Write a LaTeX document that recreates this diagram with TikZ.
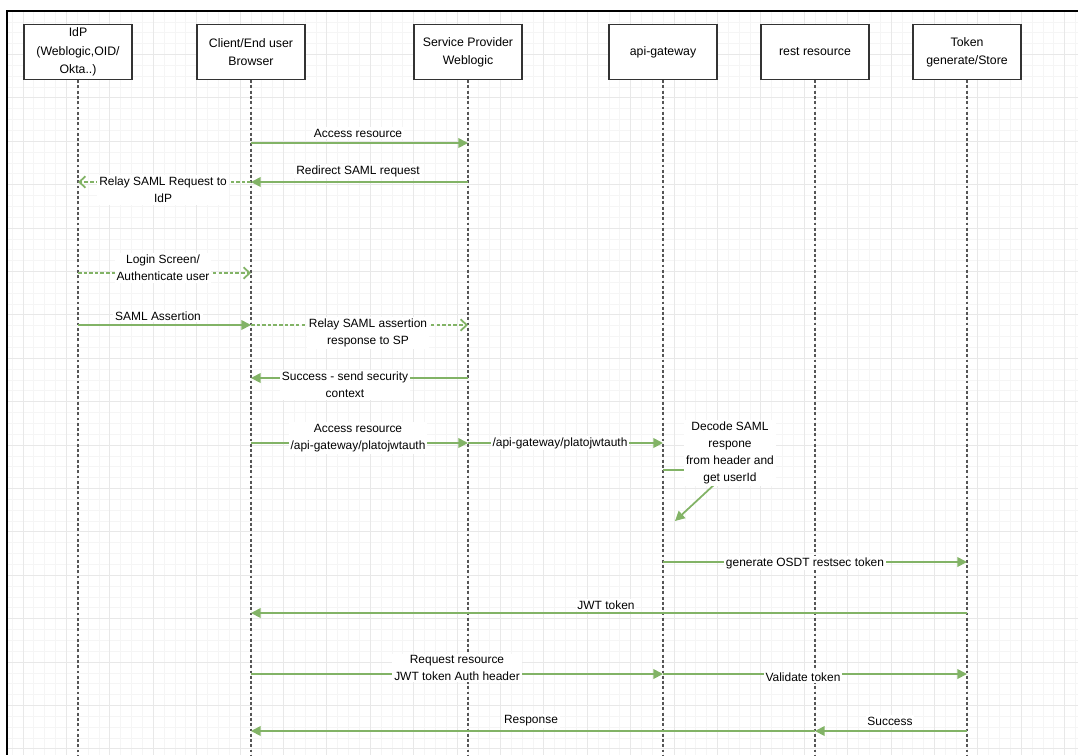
\documentclass[tikz,border=0pt]{standalone}
\usepackage{fontspec}
\setmainfont{Liberation Sans}
\usetikzlibrary{arrows.meta}
\definecolor{msggreen}{HTML}{82B366}
\definecolor{lifegray}{HTML}{555555}
\begin{document}
\begin{tikzpicture}[x=0.02cm, y=-0.02cm,
        gridminor/.style={draw=black!4, line width=0.4pt},
        gridmajor/.style={draw=black!9, line width=0.5pt},
        actor/.style={rectangle, draw=black!80, line width=0.8pt, fill=white, minimum width=2.16cm, minimum height=1.1cm, align=center, inner sep=1pt, font=\fontsize{7}{10.4}\selectfont},
        lifeline/.style={draw=lifegray, line width=0.9pt, dash pattern=on 1.6pt off 1.4pt},
        msg/.style={draw=msggreen, line width=1pt, -{Triangle[length=5.5pt, width=5.5pt]}},
        reply/.style={draw=msggreen, line width=1pt, dash pattern=on 2pt off 1.2pt, -{Straight Barb[length=3.5pt, width=6.5pt]}},
        lbl/.style={fill=white, inner sep=1pt, align=center, font=\fontsize{6.8}{9.6}\selectfont}
    ]
    \useasboundingbox (0,0) rectangle (1078,755);

    % background grid and frame
    \foreach \k in {0,...,98}
        \draw[gridminor] ({12.15+10.85*\k},11) -- ({12.15+10.85*\k},755);
    \foreach \k in {1,...,68}
        \draw[gridminor] (7,{11+10.85*\k}) -- (1078,{11+10.85*\k});
    \foreach \k in {0,...,24}
        \draw[gridmajor] ({23+43.4*\k},11) -- ({23+43.4*\k},755);
    \foreach \k in {1,...,17}
        \draw[gridmajor] (7,{11+43.4*\k}) -- (1078,{11+43.4*\k});
    \draw[line width=1.2pt] (1078,11) -- (7,11) -- (7,755);

    % participants
    \node[actor] (idp) at (78,52) {IdP\\(Weblogic,OID/\\Okta..)};
    \node[actor] (client) at (251,52) {Client/End user\\Browser};
    \node[actor] (sp) at (468,52) {Service Provider\\Weblogic};
    \node[actor] (gw) at (663,52) {api-gateway};
    \node[actor] (rest) at (815,52) {rest resource};
    \node[actor] (token) at (967,52) {Token\\generate/Store};

    \coordinate (bottom) at (0,755);
    \foreach \p in {idp,client,sp,gw,rest,token}
        \draw[lifeline] (\p.south) -- (\p.south |- bottom);

    % message levels
    \coordinate (m1) at (0,143);
    \coordinate (m2) at (0,182);
    \coordinate (m4) at (0,273);
    \coordinate (m5) at (0,325);
    \coordinate (m7) at (0,378);
    \coordinate (m8) at (0,443);
    \coordinate (m10) at (0,470);
    \coordinate (m11) at (0,562);
    \coordinate (m12) at (0,613);
    \coordinate (m13) at (0,674);
    \coordinate (m15) at (0,731);
    \coordinate (selfturn) at (730,470);
    \coordinate (selfend) at (675,521);

    % messages
    \draw[msg] (client |- m1) -- (sp |- m1);
    \draw[msg] (sp |- m2) -- (client |- m2);
    \draw[reply] (client |- m2) -- (idp |- m2);
    \draw[reply] (idp |- m4) -- (client |- m4);
    \draw[msg] (idp |- m5) -- (client |- m5);
    \draw[reply] (client |- m5) -- (sp |- m5);
    \draw[msg] (sp |- m7) -- (client |- m7);
    \draw[msg] (client |- m8) -- (sp |- m8);
    \draw[msg] (sp |- m8) -- (gw |- m8);
    \draw[msg] (gw |- m10) -- (selfturn) -- (selfend);
    \draw[msg] (gw |- m11) -- (token |- m11);
    \draw[msg] (token |- m12) -- (client |- m12);
    \draw[msg] (client |- m13) -- (gw |- m13);
    \draw[msg] (gw |- m13) -- (token |- m13);
    \draw[msg] (rest |- m15) -- (client |- m15);
    \draw[msg] (token |- m15) -- (rest |- m15);

    % labels
    \node[lbl] (l1) at (358,133) {Access resource};
    \node[lbl] (l2) at (358,171) {Redirect SAML request};
    \node[lbl] (l3) at (163,190) {Relay SAML Request to\\IdP};
    \node[lbl] (l4) at (163,268) {Login Screen/\\Authenticate user};
    \node[lbl] (l5) at (158,316) {SAML Assertion};
    \node[lbl] (l6) at (368,333) {Relay SAML assertion\\response to SP};
    \node[lbl] (l7) at (345,385) {Success - send security\\context};
    \node[lbl] (l8) at (358,438) {Access resource\\/api-gateway/platojwtauth};
    \node[lbl] (l9) at (560,443) {/api-gateway/platojwtauth};
    \node[lbl] (l10) at (730,453) {Decode SAML\\respone\\from header and\\get userId};
    \node[lbl] (l11) at (805,563) {generate OSDT restsec token};
    \node[lbl] (l12) at (606,605) {JWT token};
    \node[lbl] (l13) at (457,668) {Request resource\\JWT token Auth header};
    \node[lbl] (l14) at (803,677) {Validate token};
    \node[lbl] (l15) at (531,721) {Response};
    \node[lbl] (l16) at (890,721) {Success};
\end{tikzpicture}
\end{document}
